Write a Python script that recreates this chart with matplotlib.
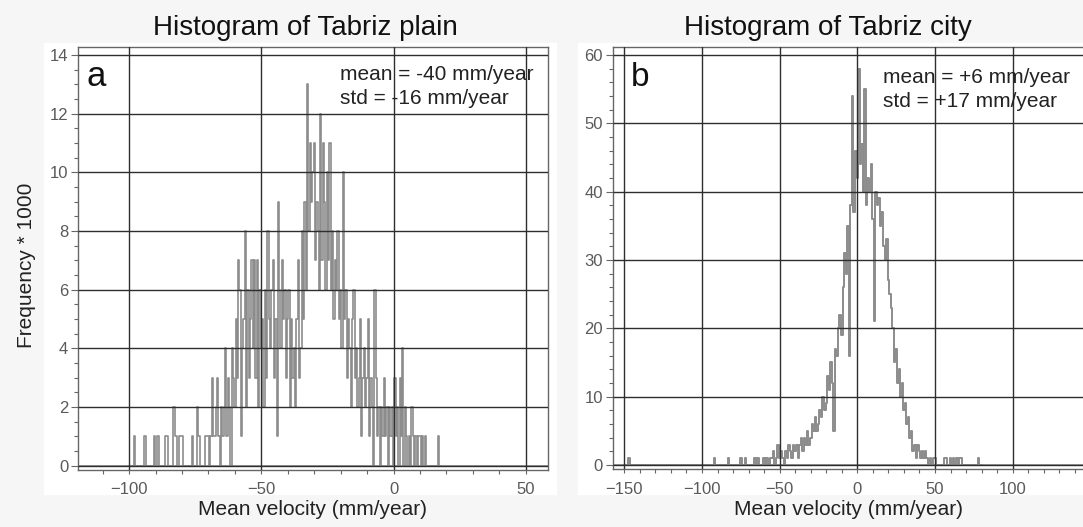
import numpy as np
import matplotlib
matplotlib.use("Agg")
import matplotlib.pyplot as plt
from matplotlib.ticker import MultipleLocator, FuncFormatter
from matplotlib.patches import Rectangle

# ---------------- data ----------------
# Panel a: Tabriz plain, counts (x1000) in 0.5 mm/year bins starting at -100
plain_start = -100.0
plain_binw = 0.5
plain_counts = [
    0, 0, 0, 0, 1, 0, 0, 0, 0, 0, 0, 0, 1, 0, 0, 0, 0, 0, 0, 1,      # -100 .. -90.5
    0, 0, 1, 0, 0, 0, 0, 0, 1, 1, 0, 0, 0, 0, 2, 1, 1, 0, 1, 1,      # -90 .. -80.5
    1, 0, 0, 0, 0, 0, 0, 0, 1, 0, 0, 0, 2, 1, 0, 0, 0, 0, 1, 1,      # -80 .. -70.5
    1, 0, 1, 3, 1, 1, 2, 3, 1, 0, 2, 1, 2, 4, 1, 3, 2, 0, 4, 3,      # -70 .. -60.5
    2, 5, 3, 7, 6, 1, 4, 5, 8, 2, 6, 3, 5, 7, 4, 7, 3, 7, 2, 6,      # -60 .. -50.5
    4, 5, 2, 6, 3, 8, 5, 4, 6, 7, 3, 5, 1, 9, 6, 4, 7, 5, 6, 3,      # -50 .. -40.5
    5, 6, 2, 5, 3, 4, 2, 5, 7, 3, 4, 8, 5, 9, 6, 13, 8, 11, 9, 10,   # -40 .. -30.5
    11, 7, 9, 8, 6, 12, 7, 11, 9, 6, 10, 7, 11, 6, 8, 5, 7, 6, 8, 5, # -30 .. -20.5
    6, 4, 10, 5, 6, 3, 5, 4, 2, 5, 6, 3, 4, 2, 3, 5, 1, 3, 4, 2,     # -20 .. -10.5
    3, 5, 1, 3, 2, 0, 6, 3, 1, 2, 0, 2, 1, 3, 1, 2, 0, 2, 1, 2,      # -10 .. -0.5
    0, 3, 1, 2, 0, 3, 1, 4, 0, 2, 1, 0, 1, 0, 2, 1, 0, 1, 0, 1,      # 0 .. 9.5
    1, 0, 1, 0, 1, 0, 0, 0, 0, 0, 0, 0, 0, 0, 1, 0, 0,               # 10 .. 18
]

# Panel b: Tabriz city, counts (x1000) in 1 mm/year bins
city_start = -60
city_counts = [
    1, 0, 1, 0, 1, 1, 2, 0, 1, 3,          # -60 .. -51
    1, 2, 1, 0, 2, 1, 3, 2, 1, 3,          # -50 .. -41
    2, 3, 1, 3, 4, 2, 4, 3, 5, 3,          # -40 .. -31
    4, 6, 5, 7, 5, 6, 8, 7, 10, 8,         # -30 .. -21
    9, 13, 11, 15, 12, 5, 17, 16, 20, 22,  # -20 .. -11
    19, 26, 31, 28, 35, 16, 38, 54, 37, 46,  # -10 .. -1
    42, 58, 44, 47, 40, 55, 38, 42, 40, 44,  # 0 .. 9
    36, 21, 40, 38, 39, 35, 37, 32, 30, 33,  # 10 .. 19
    27, 25, 23, 20, 15, 17, 12, 14, 10, 12,  # 20 .. 29
    8, 9, 6, 7, 4, 5, 2, 3, 1, 3,            # 30 .. 39
    2, 1, 2, 1, 2, 1, 0, 1, 0, 1, 1,         # 40 .. 50
]
city_outlier_x = [-147, -92, -83, -75, -72, -66, -64, 56, 57, 60, 62, 64, 66, 67, 78]
city_outlier_n = [1, 1, 1, 1, 1, 1, 1, 1, 1, 1, 1, 1, 1, 1, 1]

titles = ["Histogram of Tabriz plain", "Histogram of Tabriz city"]
panel_letters = ["a", "b"]
stats_text = ["mean = -40 mm/year\nstd = -16 mm/year",
              "mean = +6 mm/year\nstd = +17 mm/year"]
xlabel = "Mean velocity (mm/year)"
ylabel = "Frequency * 1000"

# ---------------- figure ----------------
plt.rcParams["font.family"] = ["Liberation Sans", "DejaVu Sans"]
W, H = 1083, 527
fig = plt.figure(figsize=(W / 100, H / 100), dpi=100, facecolor="#f6f6f6")


def px_rect(l, t, r, b):
    return [l / W, 1 - b / H, (r - l) / W, (b - t) / H]


def fx(x):
    return x / W


def fy(y):
    return 1 - y / H


# white panel backgrounds (behind the axes)
fig.patches.append(Rectangle((fx(44), fy(494)), fx(556 - 44), (494 - 43) / H,
                             transform=fig.transFigure, color="white", zorder=-10))
fig.patches.append(Rectangle((fx(578), fy(494)), fx(1083 - 578), (494 - 43) / H,
                             transform=fig.transFigure, color="white", zorder=-10))

axA = fig.add_axes(px_rect(78, 46.7, 547.5, 470))
axB = fig.add_axes(px_rect(612.7, 46.7, 1095, 469))

line_col = "#8c8c8c"
grid_col = "#2e2e2e"
spine_col = "#666666"

# panel a
xa = plain_start + plain_binw * np.arange(len(plain_counts))
axA.axhline(0, color=line_col, lw=1.2, zorder=1.5)
axA.plot(xa, plain_counts, drawstyle="steps-mid", color=line_col, lw=1.2, zorder=2)
axA.set_xlim(-119.3, 58.2)
axA.set_ylim(-0.15, 14.28)
axA.xaxis.set_major_locator(MultipleLocator(50))
axA.xaxis.set_minor_locator(MultipleLocator(10))
axA.yaxis.set_major_locator(MultipleLocator(2))
axA.yaxis.set_minor_locator(MultipleLocator(0.5))

# panel b
xb_full = np.arange(-150, 81)
nb_full = np.zeros(len(xb_full))
seg = np.arange(city_start, city_start + len(city_counts))
nb_full[np.searchsorted(xb_full, seg)] = city_counts
nb_full[np.searchsorted(xb_full, city_outlier_x)] = city_outlier_n
axB.axhline(0, color=line_col, lw=1.2, zorder=1.5)
axB.plot(xb_full, nb_full, drawstyle="steps-mid", color=line_col, lw=1.4, zorder=2)
axB.set_xlim(-157.5, 153.0)
axB.set_ylim(-0.585, 61.21)
axB.xaxis.set_major_locator(MultipleLocator(50))
axB.xaxis.set_minor_locator(MultipleLocator(10))
axB.yaxis.set_major_locator(MultipleLocator(10))
axB.yaxis.set_minor_locator(MultipleLocator(2))
# the panel is cut at the right edge of the figure: no label for the hidden 150 tick
axB.xaxis.set_major_formatter(FuncFormatter(
    lambda v, p: "" if v >= 150 else f"{int(v)}".replace("-", "\u2212")))

for ax in (axA, axB):
    ax.set_axisbelow(False)
    ax.grid(True, which="major", color=grid_col, lw=1.0)
    ax.grid(False, which="minor")
    for s in ax.spines.values():
        s.set_color(spine_col)
        s.set_linewidth(1.0)
    ax.tick_params(which="major", direction="out", length=5, width=0.8,
                   colors=spine_col, labelcolor="#5a5a5a", labelsize=12, pad=2)
    ax.tick_params(which="minor", direction="out", length=3, width=0.8,
                   colors=spine_col)
    ax.tick_params(axis="x", which="major", length=3, pad=6)
    ax.tick_params(axis="x", which="minor", length=3)
    ax.set_facecolor("white")

# titles and labels
fig.text(fx(305), fy(35), titles[0], fontsize=20, ha="center", va="baseline", color="#111111")
fig.text(fx(828), fy(35), titles[1], fontsize=20, ha="center", va="baseline", color="#111111")
fig.text(fx(312), fy(515), xlabel, fontsize=15, ha="center", va="baseline", color="#222222")
fig.text(fx(848), fy(515), xlabel, fontsize=15, ha="center", va="baseline", color="#222222")
fig.text(fx(27), fy(265), ylabel, fontsize=15, ha="center", va="center",
         rotation=90, color="#222222")

# panel letters and stats
fig.text(fx(87), fy(86.5), panel_letters[0], fontsize=25, ha="left", va="baseline", color="#111111")
fig.text(fx(631), fy(86), panel_letters[1], fontsize=24, ha="left", va="baseline", color="#111111")
fig.text(fx(340), fy(80), stats_text[0].split("\n")[0], fontsize=15, ha="left", va="baseline", color="#222222")
fig.text(fx(340), fy(104), stats_text[0].split("\n")[1], fontsize=15, ha="left", va="baseline", color="#222222")
fig.text(fx(883), fy(83), stats_text[1].split("\n")[0], fontsize=15, ha="left", va="baseline", color="#222222")
fig.text(fx(883), fy(106.5), stats_text[1].split("\n")[1], fontsize=15, ha="left", va="baseline", color="#222222")

fig.savefig("out.png", dpi=100, facecolor=fig.get_facecolor())
